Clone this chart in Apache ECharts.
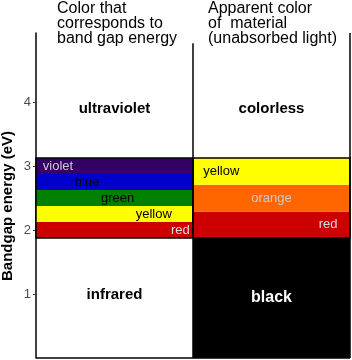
<!DOCTYPE html>
<html>
<head>
<meta charset="utf-8">
<script src="https://cdn.jsdelivr.net/npm/echarts@6/dist/echarts.min.js"></script>
<style>
  html, body { margin: 0; padding: 0; background: #fff; }
  #chart { width: 352px; height: 360px; }
</style>
</head>
<body>
<div id="chart"></div>
<script>
// band gap colours (left column) - eV ranges
const leftNames = ['red', 'yellow', 'green', 'blue', 'violet']
const leftLow = [1.875, 2.125, 2.375, 2.625, 2.875]
const leftHigh = [2.125, 2.375, 2.625, 2.875, 3.125]
// apparent colour (right column)
const rightNames = ['black', 'red', 'orange', 'yellow']
const rightLow = [0, 1.875, 2.2917, 2.7083]
const rightHigh = [1.875, 2.2917, 2.7083, 3.125]
// region labels
const regionNames = ['ultraviolet', 'colorless', 'infrared']
const regionLevel = [3.9, 3.9, 0.98]
const tickLabels = [1, 2, 3, 4]

// styles / layout
const fillOf = {
  red: '#cc0000', yellow: '#ffff00', green: '#008000', blue: '#0000cc',
  violet: '#330066', orange: '#ff6600', black: '#000000'
}
const textOf = {
  red: '#dddddd', yellow: '#000', green: '#000', blue: '#000',
  violet: '#cccccc', orange: '#cccccc', black: '#ffffff'
}
const leftLabelX = [0.92, 0.75, 0.52, 0.325, 0.14]
const rightLabelX = [1.5, 1.86, 1.5, 1.18]
const regionX = [0.5, 1.5, 0.5]
const yMax = 5.08

const rects = []
leftNames.forEach((n, i) => rects.push([0, 1, leftLow[i], leftHigh[i], n, leftLabelX[i]]))
rightNames.forEach((n, i) => rects.push([1, 2, rightLow[i], rightHigh[i], n, rightLabelX[i]]))

const chart = echarts.init(document.getElementById('chart'))

function box(api, x0, x1, y0, y1) {
  const a = api.coord([x0, y1])
  const b = api.coord([x1, y0])
  return { x: a[0], y: a[1], width: b[0] - a[0], height: b[1] - a[1] }
}

chart.setOption({
  animation: false,
  grid: { left: 36, right: 2, top: 33, bottom: 2 },
  xAxis: { type: 'value', min: 0, max: 2, show: false },
  yAxis: {
    type: 'value', min: 0, max: yMax, interval: 1,
    axisLine: { show: true, lineStyle: { color: '#000', width: 1.5 } },
    axisTick: { show: true, length: 3, customValues: tickLabels, lineStyle: { color: '#333' } },
    axisLabel: { customValues: tickLabels, color: '#4d4d4d', fontSize: 13, margin: 5, fontFamily: 'Liberation Sans' },
    splitLine: { show: false }
  },
  graphic: [
    {
      type: 'text', left: 57, top: 1,
      style: { text: 'Color that\ncorresponds to\nband gap energy', font: '16px "Liberation Sans"', lineHeight: 15, fill: '#000' }
    },
    {
      type: 'text', left: 208, top: 1,
      style: { text: 'Apparent color\nof  material\n(unabsorbed light)', font: '16px "Liberation Sans"', lineHeight: 15, fill: '#000' }
    },
    {
      type: 'text', x: 8, y: 206, rotation: Math.PI / 2,
      style: { text: 'Bandgap energy (eV)', font: 'bold 15px "Liberation Sans"', fill: '#000', align: 'center', verticalAlign: 'middle' }
    }
  ],
  series: [
    {
      type: 'custom',
      coordinateSystem: 'cartesian2d',
      data: rects,
      renderItem(params, api) {
        const d = rects[params.dataIndex]
        const s = box(api, d[0], d[1], d[2], d[3])
        const c = api.coord([d[5], (d[2] + d[3]) / 2])
        const big = d[4] === 'black'
        return {
          type: 'group',
          children: [
            { type: 'rect', shape: s, style: { fill: fillOf[d[4]] } },
            {
              type: 'text', x: c[0], y: c[1],
              style: {
                text: d[4], fill: textOf[d[4]], align: 'center', verticalAlign: 'middle',
                font: big ? 'bold 16px "Liberation Sans"' : '13px "Liberation Sans"'
              }
            }
          ]
        }
      }
    },
    {
      type: 'custom',
      coordinateSystem: 'cartesian2d',
      data: [0],
      renderItem(params, api) {
        const a = box(api, 0, 1, leftLow[0], leftHigh[leftHigh.length - 1])
        const b = box(api, 1, 2, rightLow[1], rightHigh[rightHigh.length - 1])
        const o = api.coord([0, 0])
        const m = api.coord([1, 4.92])
        const r = api.coord([2, yMax])
        const ls = { stroke: '#000', lineWidth: 1.5, fill: null }
        const kids = [
          { type: 'rect', shape: a, style: ls },
          { type: 'rect', shape: b, style: ls },
          { type: 'line', shape: { x1: o[0], y1: o[1], x2: r[0], y2: o[1] }, style: ls },
          { type: 'line', shape: { x1: m[0], y1: o[1], x2: m[0], y2: m[1] }, style: ls },
          { type: 'line', shape: { x1: r[0], y1: o[1], x2: r[0], y2: r[1] }, style: ls }
        ]
        regionNames.forEach((n, i) => {
          const p = api.coord([regionX[i], regionLevel[i]])
          kids.push({
            type: 'text', x: p[0], y: p[1],
            style: { text: n, fill: '#000', align: 'center', verticalAlign: 'middle', font: 'bold 15px "Liberation Sans"' }
          })
        })
        return { type: 'group', children: kids }
      }
    }
  ]
})
</script>
</body>
</html>
